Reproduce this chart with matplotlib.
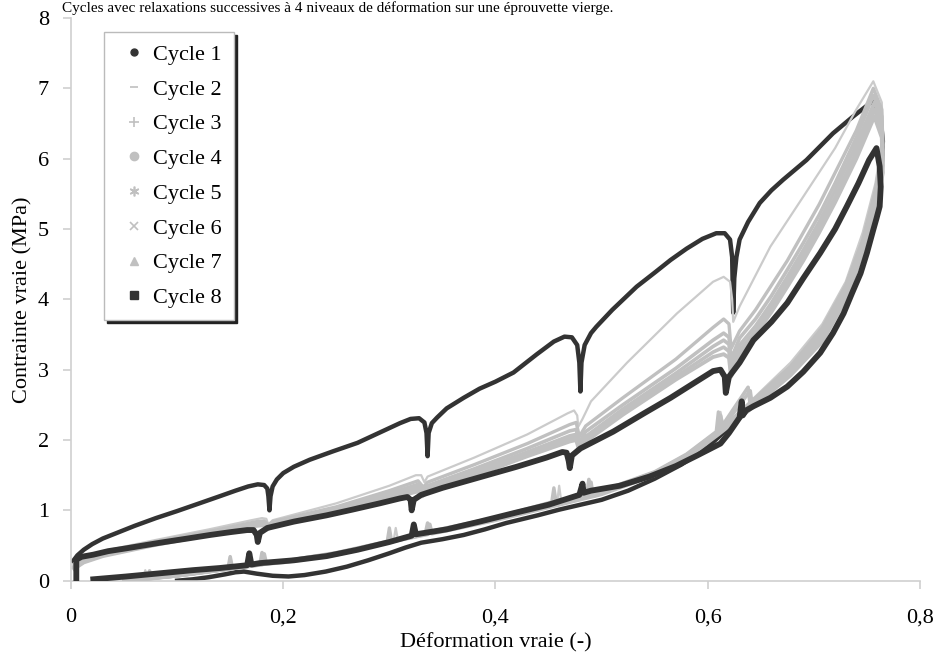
import matplotlib
matplotlib.use("Agg")
import matplotlib.pyplot as plt
from matplotlib.lines import Line2D

plt.rcParams['font.family'] = ['Liberation Serif', 'DejaVu Serif']

# ---------------- data (strain, true stress in MPa) ----------------
cycle_labels = ["Cycle 1", "Cycle 2", "Cycle 3", "Cycle 4",
                "Cycle 5", "Cycle 6", "Cycle 7", "Cycle 8"]

c1_x = [0.002, 0.006, 0.012, 0.020, 0.030, 0.045, 0.060, 0.080, 0.100, 0.121, 0.140, 0.155, 0.167,
        0.176, 0.182, 0.185, 0.186, 0.187, 0.188, 0.190, 0.194, 0.200, 0.210, 0.225, 0.247, 0.270,
        0.290, 0.310, 0.320, 0.328, 0.333, 0.335, 0.336, 0.337, 0.340, 0.345, 0.354, 0.370, 0.385,
        0.400, 0.417, 0.439, 0.455, 0.465, 0.472, 0.477, 0.479, 0.480, 0.481, 0.484, 0.490, 0.495,
        0.510, 0.533, 0.550, 0.565, 0.580, 0.595, 0.608, 0.616, 0.621, 0.623, 0.624, 0.625, 0.627,
        0.630, 0.638, 0.649, 0.660, 0.671, 0.693, 0.718, 0.737, 0.753, 0.757,
        0.763, 0.765, 0.764, 0.760, 0.754, 0.745, 0.733, 0.718, 0.700, 0.680, 0.660, 0.640, 0.620,
        0.600, 0.575, 0.550, 0.525, 0.500, 0.480, 0.460, 0.440, 0.410, 0.390, 0.370, 0.350, 0.330,
        0.315, 0.300, 0.280, 0.260, 0.240, 0.220, 0.205, 0.190, 0.175, 0.163, 0.155, 0.145, 0.130,
        0.115, 0.100]
c1_y = [0.28, 0.36, 0.44, 0.52, 0.60, 0.69, 0.78, 0.89, 0.99, 1.10, 1.20, 1.28, 1.34,
        1.37, 1.36, 1.31, 1.20, 1.00, 1.20, 1.34, 1.44, 1.53, 1.62, 1.72, 1.84, 1.96,
        2.10, 2.24, 2.30, 2.31, 2.25, 2.10, 1.77, 2.10, 2.24, 2.32, 2.45, 2.60, 2.73,
        2.83, 2.96, 3.22, 3.40, 3.47, 3.46, 3.35, 3.10, 2.69, 3.10, 3.35, 3.52, 3.61,
        3.85, 4.18, 4.38, 4.56, 4.72, 4.86, 4.94, 4.94, 4.85, 4.60, 3.81, 4.30, 4.60,
        4.85, 5.10, 5.37, 5.55, 5.70, 5.98, 6.36, 6.60, 6.79, 6.82,
        6.55, 6.25, 5.90, 5.50, 5.10, 4.65, 4.20, 3.75, 3.35, 3.00, 2.72, 2.45, 2.18,
        1.90, 1.65, 1.45, 1.28, 1.15, 1.08, 1.01, 0.93, 0.82, 0.73, 0.65, 0.59, 0.54,
        0.47, 0.39, 0.29, 0.20, 0.13, 0.08, 0.06, 0.07, 0.10, 0.13, 0.12, 0.09, 0.05,
        0.02, 0.00]

c2_x = [0.003, 0.012, 0.030, 0.080, 0.130, 0.170, 0.180, 0.184, 0.186, 0.190, 0.250, 0.300, 0.325,
        0.330, 0.333, 0.336, 0.380, 0.430, 0.468, 0.474, 0.477, 0.478, 0.482, 0.490, 0.524, 0.571,
        0.605, 0.615, 0.621, 0.623, 0.624, 0.630, 0.659, 0.690, 0.720, 0.740, 0.756,
        0.764, 0.765, 0.758, 0.746, 0.730, 0.708, 0.678, 0.645, 0.615, 0.612, 0.610, 0.580, 0.550,
        0.500, 0.462, 0.460, 0.458, 0.400, 0.350, 0.308, 0.306, 0.304, 0.250, 0.200, 0.152, 0.150,
        0.148, 0.100, 0.072, 0.070, 0.068, 0.050]
c2_y = [0.25, 0.33, 0.42, 0.58, 0.73, 0.86, 0.89, 0.88, 0.80, 0.86, 1.10, 1.35, 1.50,
        1.50, 1.40, 1.48, 1.75, 2.08, 2.38, 2.42, 2.35, 2.19, 2.30, 2.55, 3.10, 3.80,
        4.25, 4.32, 4.25, 4.00, 3.68, 3.90, 4.75, 5.46, 6.15, 6.70, 7.10,
        6.80, 6.30, 5.65, 4.95, 4.25, 3.65, 3.10, 2.62, 2.18, 2.40, 2.14, 1.80, 1.55,
        1.28, 1.12, 1.35, 1.10, 0.90, 0.73, 0.58, 0.75, 0.57, 0.38, 0.27, 0.18, 0.35,
        0.17, 0.08, 0.04, 0.15, 0.03, 0.00]

c3_x = [0.003, 0.012, 0.030, 0.080, 0.130, 0.175, 0.182, 0.186, 0.190, 0.250, 0.300, 0.327, 0.332,
        0.336, 0.380, 0.430, 0.470, 0.476, 0.479, 0.485, 0.520, 0.570, 0.605, 0.615, 0.620, 0.622,
        0.630, 0.645, 0.660, 0.675, 0.690, 0.705, 0.720, 0.740, 0.756,
        0.764, 0.765, 0.758, 0.746, 0.730, 0.708, 0.678, 0.645, 0.612, 0.610, 0.608, 0.580, 0.550,
        0.500, 0.457, 0.455, 0.453, 0.400, 0.350, 0.302, 0.300, 0.298, 0.250, 0.200, 0.150, 0.100,
        0.060]
c3_y = [0.22, 0.31, 0.40, 0.56, 0.70, 0.84, 0.85, 0.79, 0.84, 1.05, 1.28, 1.42, 1.33,
        1.40, 1.65, 1.95, 2.22, 2.25, 2.05, 2.20, 2.60, 3.15, 3.60, 3.72, 3.65, 3.30,
        3.55, 3.85, 4.20, 4.55, 4.95, 5.35, 5.80, 6.40, 7.00,
        6.70, 6.20, 5.55, 4.85, 4.20, 3.60, 3.05, 2.60, 2.15, 2.40, 2.12, 1.80, 1.55,
        1.28, 1.13, 1.32, 1.12, 0.90, 0.74, 0.57, 0.75, 0.56, 0.40, 0.28, 0.17, 0.07,
        0.00]

c4_x = [0.003, 0.012, 0.030, 0.080, 0.130, 0.175, 0.182, 0.185, 0.190, 0.250, 0.300, 0.327, 0.331,
        0.336, 0.380, 0.430, 0.470, 0.476, 0.479, 0.485, 0.520, 0.570, 0.605, 0.615, 0.620, 0.622,
        0.630, 0.645, 0.660, 0.675, 0.690, 0.705, 0.720, 0.740, 0.756,
        0.764, 0.765, 0.758, 0.746, 0.730, 0.708, 0.678, 0.645, 0.615, 0.612, 0.610, 0.580, 0.550,
        0.500, 0.460, 0.400, 0.350, 0.304, 0.250, 0.200, 0.152, 0.150, 0.148, 0.100, 0.076, 0.074,
        0.072, 0.050]
c4_y = [0.20, 0.29, 0.38, 0.54, 0.68, 0.81, 0.82, 0.76, 0.81, 1.02, 1.24, 1.37, 1.29,
        1.35, 1.59, 1.88, 2.13, 2.15, 1.97, 2.12, 2.50, 3.02, 3.42, 3.52, 3.46, 3.15,
        3.45, 3.72, 4.05, 4.42, 4.80, 5.20, 5.65, 6.30, 6.90,
        6.60, 6.10, 5.48, 4.80, 4.15, 3.55, 3.02, 2.58, 2.15, 2.35, 2.10, 1.78, 1.53,
        1.26, 1.11, 0.89, 0.73, 0.57, 0.39, 0.28, 0.18, 0.34, 0.17, 0.07, 0.04, 0.14,
        0.03, 0.00]

c5_x = [0.003, 0.012, 0.030, 0.080, 0.130, 0.175, 0.182, 0.185, 0.190, 0.250, 0.300, 0.327, 0.331,
        0.336, 0.380, 0.430, 0.470, 0.476, 0.479, 0.485, 0.520, 0.570, 0.605, 0.615, 0.620, 0.622,
        0.630, 0.645, 0.660, 0.675, 0.690, 0.705, 0.720, 0.740, 0.757,
        0.764, 0.765, 0.758, 0.746, 0.730, 0.708, 0.678, 0.645, 0.640, 0.638, 0.610, 0.580, 0.550,
        0.500, 0.490, 0.488, 0.486, 0.460, 0.400, 0.350, 0.338, 0.336, 0.334, 0.300, 0.250, 0.200,
        0.182, 0.180, 0.178, 0.150, 0.100, 0.050]
c5_y = [0.19, 0.28, 0.37, 0.53, 0.67, 0.80, 0.81, 0.75, 0.80, 1.00, 1.21, 1.33, 1.26,
        1.32, 1.55, 1.83, 2.06, 2.08, 1.91, 2.05, 2.44, 2.95, 3.33, 3.42, 3.36, 3.05,
        3.35, 3.62, 3.95, 4.32, 4.70, 5.10, 5.55, 6.20, 6.80,
        6.50, 6.00, 5.40, 4.75, 4.10, 3.50, 2.98, 2.55, 2.50, 2.75, 2.12, 1.76, 1.52,
        1.25, 1.22, 1.44, 1.21, 1.10, 0.88, 0.72, 0.68, 0.82, 0.67, 0.56, 0.38, 0.27,
        0.24, 0.40, 0.23, 0.17, 0.07, 0.00]

c6_x = [0.003, 0.012, 0.030, 0.080, 0.130, 0.175, 0.182, 0.185, 0.190, 0.250, 0.300, 0.327, 0.331,
        0.336, 0.380, 0.430, 0.470, 0.476, 0.479, 0.485, 0.520, 0.570, 0.605, 0.615, 0.620, 0.622,
        0.630, 0.645, 0.660, 0.675, 0.690, 0.705, 0.720, 0.740, 0.757,
        0.764, 0.765, 0.758, 0.746, 0.730, 0.708, 0.678, 0.645, 0.642, 0.640, 0.610, 0.580, 0.550,
        0.500, 0.492, 0.490, 0.488, 0.460, 0.400, 0.350, 0.300, 0.250, 0.200, 0.150, 0.100, 0.050]
c6_y = [0.18, 0.27, 0.36, 0.52, 0.66, 0.79, 0.80, 0.74, 0.79, 0.99, 1.19, 1.30, 1.23,
        1.29, 1.52, 1.80, 2.02, 2.04, 1.88, 2.01, 2.40, 2.90, 3.25, 3.32, 3.26, 2.95,
        3.28, 3.55, 3.88, 4.25, 4.62, 5.02, 5.45, 6.10, 6.70,
        6.40, 5.90, 5.32, 4.70, 4.05, 3.45, 2.95, 2.52, 2.48, 2.70, 2.10, 1.75, 1.51,
        1.24, 1.20, 1.40, 1.20, 1.09, 0.87, 0.71, 0.55, 0.37, 0.27, 0.17, 0.07, 0.00]

c7_x = [0.003, 0.012, 0.030, 0.080, 0.130, 0.175, 0.182, 0.185, 0.190, 0.250, 0.300, 0.327, 0.331,
        0.336, 0.380, 0.430, 0.470, 0.476, 0.479, 0.485, 0.520, 0.570, 0.605, 0.615, 0.620, 0.622,
        0.630, 0.645, 0.660, 0.675, 0.690, 0.705, 0.720, 0.740, 0.757,
        0.764, 0.765, 0.758, 0.746, 0.730, 0.708, 0.678, 0.645, 0.610, 0.580, 0.550, 0.500, 0.460,
        0.400, 0.350, 0.340, 0.338, 0.336, 0.300, 0.250, 0.200, 0.184, 0.182, 0.180, 0.150, 0.100,
        0.050]
c7_y = [0.17, 0.26, 0.35, 0.51, 0.65, 0.78, 0.79, 0.73, 0.78, 0.98, 1.17, 1.27, 1.20,
        1.26, 1.49, 1.77, 1.98, 2.00, 1.85, 1.98, 2.36, 2.86, 3.18, 3.22, 3.17, 2.90,
        3.22, 3.50, 3.82, 4.18, 4.55, 4.95, 5.38, 6.00, 6.60,
        6.30, 5.80, 5.25, 4.65, 4.00, 3.40, 2.92, 2.50, 2.08, 1.74, 1.50, 1.23, 1.08,
        0.86, 0.70, 0.67, 0.80, 0.66, 0.55, 0.37, 0.26, 0.24, 0.38, 0.23, 0.17, 0.07,
        0.00]

c8_x = [0.005, 0.005, 0.010, 0.021, 0.035, 0.052, 0.084, 0.110, 0.131, 0.150, 0.166, 0.172, 0.175,
        0.176, 0.178, 0.185, 0.210, 0.241, 0.265, 0.291, 0.310, 0.317, 0.320, 0.321, 0.323, 0.330,
        0.350, 0.385, 0.420, 0.448, 0.463, 0.467, 0.469, 0.470, 0.472, 0.480, 0.511, 0.540, 0.565,
        0.586, 0.605, 0.612, 0.616, 0.617, 0.620, 0.630, 0.643, 0.660, 0.675, 0.690, 0.706, 0.720,
        0.731, 0.742, 0.752, 0.759,
        0.762, 0.763, 0.762, 0.759, 0.756, 0.750, 0.744, 0.736, 0.728, 0.718, 0.706, 0.690, 0.675,
        0.659, 0.643, 0.636, 0.633, 0.632, 0.630, 0.620, 0.612, 0.590, 0.570, 0.545, 0.517, 0.490,
        0.483, 0.482, 0.479, 0.450, 0.417, 0.385, 0.354, 0.325, 0.323, 0.321, 0.300, 0.270, 0.241,
        0.210, 0.178, 0.170, 0.168, 0.166, 0.140, 0.115, 0.080, 0.052, 0.021]
c8_y = [0.00, 0.30, 0.34, 0.37, 0.42, 0.46, 0.54, 0.60, 0.65, 0.69, 0.72, 0.72, 0.65,
        0.55, 0.68, 0.75, 0.84, 0.93, 1.01, 1.10, 1.17, 1.19, 1.15, 1.00, 1.15, 1.22,
        1.32, 1.47, 1.62, 1.75, 1.83, 1.82, 1.70, 1.60, 1.78, 1.88, 2.12, 2.38, 2.60,
        2.80, 2.98, 3.00, 2.90, 2.67, 2.90, 3.10, 3.42, 3.68, 3.95, 4.30, 4.66, 5.00,
        5.32, 5.65, 5.98, 6.15,
        5.89, 5.60, 5.32, 5.15, 4.99, 4.66, 4.37, 4.09, 3.80, 3.52, 3.24, 2.97, 2.76,
        2.60, 2.48, 2.42, 2.35, 2.55, 2.32, 2.10, 1.95, 1.78, 1.63, 1.48, 1.35, 1.28,
        1.25, 1.38, 1.22, 1.08, 0.96, 0.84, 0.73, 0.66, 0.80, 0.64, 0.55, 0.44, 0.35,
        0.29, 0.25, 0.23, 0.39, 0.22, 0.18, 0.15, 0.10, 0.06, 0.02]

x_ticks = [0, 0.2, 0.4, 0.6, 0.8]
x_tick_labels = ["0", "0,2", "0,4", "0,6", "0,8"]
y_ticks = [0, 1, 2, 3, 4, 5, 6, 7, 8]

# ---------------- styling ----------------
dark = "#333333"
grey = "#c0c0c0"
grey2 = "#cbcbcb"

fig = plt.figure(figsize=(9.39, 6.55), dpi=100)
ax = fig.add_axes([71 / 939, 1 - 580.7 / 655, 849 / 939, (580.7 - 18) / 655])

ax.plot(c1_x, c1_y, color=dark, lw=3.2, solid_joinstyle='round', zorder=2)
series = [(c2_x, c2_y, grey2, 1.6), (c3_x, c3_y, grey, 2.4), (c4_x, c4_y, grey, 2.6),
          (c5_x, c5_y, grey, 2.6), (c6_x, c6_y, grey, 2.6), (c7_x, c7_y, grey, 2.8)]
for i, (xs, ys, col, lw) in enumerate(series):
    ax.plot(xs, ys, color=col, lw=lw, solid_joinstyle='round', zorder=3 + i * 0.1)
ax.plot(c8_x, c8_y, color=dark, lw=4.2, solid_joinstyle='round', zorder=4)

ax.set_xlim(0, 0.8)
ax.set_ylim(0, 8)
ax.set_xticks(x_ticks)
ax.set_xticklabels(x_tick_labels)
ax.set_yticks(y_ticks)
for s in ["top", "right"]:
    ax.spines[s].set_visible(False)
for s in ["left", "bottom"]:
    ax.spines[s].set_color("#cfcfcf")
    ax.spines[s].set_linewidth(1.2)
ax.tick_params(axis="both", colors="#cfcfcf", labelcolor="black", labelsize=16,
               length=6, width=1.2, direction="out")
ax.tick_params(axis="x", pad=14)
ax.tick_params(axis="y", pad=10)

ax.set_xlabel("Déformation vraie (-)", fontsize=16, labelpad=4)
ax.set_ylabel("Contrainte vraie (MPa)", fontsize=16, labelpad=4)

handles = [
    Line2D([], [], ls="none", marker="o", ms=5, color=dark),
    Line2D([], [], ls="none", marker="_", ms=6, mew=1.2, color=grey),
    Line2D([], [], ls="none", marker="+", ms=7, mew=1.2, color=grey),
    Line2D([], [], ls="none", marker="o", ms=6, color=grey),
    Line2D([], [], ls="none", marker=(6, 2, 0), ms=7, mew=1.2, color=grey),
    Line2D([], [], ls="none", marker="x", ms=6, mew=1.2, color=grey),
    Line2D([], [], ls="none", marker="^", ms=6, color=grey),
    Line2D([], [], ls="none", marker="s", ms=6, color=dark),
]
leg = ax.legend(handles, cycle_labels, loc="upper left",
                bbox_to_anchor=(33 / 849, 1 - 14 / 562.7), borderaxespad=0,
                fontsize=16, frameon=True, fancybox=False,
                shadow={"color": "#222222", "alpha": 1.0},
                handlelength=1.6, handletextpad=0.05, labelspacing=0.64,
                borderpad=0.55)
leg.get_frame().set_edgecolor("#bbbbbb")
leg.get_frame().set_linewidth(1.0)

fig.text(62 / 939, 1 - 1 / 655,
         "Cycles avec relaxations successives à 4 niveaux de déformation sur une éprouvette vierge.",
         fontsize=11, ha="left", va="top")

fig.savefig("out.png", dpi=100)
